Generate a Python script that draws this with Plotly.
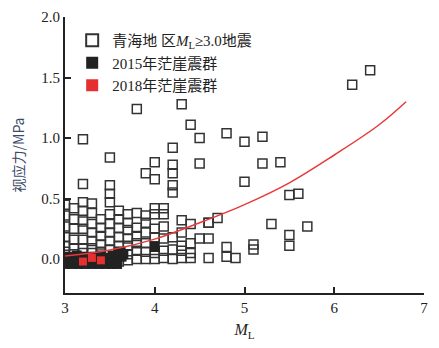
import plotly.graph_objects as go

# Open squares: Qinghai ML>=3.0 earthquakes (ML, apparent stress MPa)
qh_ml = [3.2, 3.5, 3.8, 4.3, 4.4, 4.5, 4.2, 4.5, 4.0, 4.2, 4.2, 3.9, 4.0, 4.8, 5.0, 5.2, 5.2, 5.4,
         6.2, 6.4, 5.0, 5.5, 5.6, 4.7, 4.6, 5.3, 5.7, 5.5, 5.5, 4.6, 4.5, 4.8, 4.8, 4.9, 5.1, 5.1, 4.6,
         4.2, 4.2, 3.5, 3.5, 3.5, 3.2,
         3.0, 3.0, 3.0, 3.0, 3.0, 3.0,
         3.1, 3.1, 3.1, 3.1, 3.1, 3.1,
         3.2, 3.2, 3.2, 3.2, 3.2, 3.2, 3.2,
         3.3, 3.3, 3.3, 3.3, 3.3, 3.3, 3.3,
         3.4, 3.4, 3.4, 3.4, 3.4,
         3.5, 3.5, 3.5, 3.5, 3.5,
         3.6, 3.6, 3.6, 3.6, 3.6, 3.6, 3.6,
         3.7, 3.7, 3.7, 3.7, 3.7, 3.7, 3.7,
         3.8, 3.8, 3.8, 3.8, 3.8, 3.8,
         3.9, 3.9, 3.9, 3.9, 3.9, 3.9,
         4.0, 4.0, 4.0, 4.0, 4.0, 4.0,
         4.1, 4.1, 4.1, 4.1, 4.1, 4.1,
         4.2, 4.2, 4.2,
         4.3, 4.3, 4.3, 4.3, 4.3,
         4.4, 4.4, 4.4, 4.4,
         4.6]
qh_sigma = [0.99, 0.84, 1.24, 1.28, 1.11, 1.00, 0.92, 0.79, 0.80, 0.78, 0.71, 0.71, 0.66, 1.04, 0.97, 1.01, 0.79, 0.80,
            1.44, 1.56, 0.64, 0.53, 0.54, 0.34, 0.30, 0.29, 0.27, 0.20, 0.11, 0.17, 0.17, 0.10, 0.02, 0.01, 0.12, 0.08, 0.01,
            0.61, 0.55, 0.61, 0.54, 0.47, 0.62,
            0.45, 0.36, 0.27, 0.18, 0.11, 0.06,
            0.42, 0.33, 0.25, 0.16, 0.09, 0.04,
            0.47, 0.40, 0.31, 0.25, 0.16, 0.09, 0.05,
            0.46, 0.38, 0.29, 0.22, 0.15, 0.09, 0.05,
            0.33, 0.26, 0.19, 0.12, 0.06,
            0.37, 0.29, 0.22, 0.15, 0.08,
            0.40, 0.33, 0.26, 0.18, 0.11, 0.06, -0.02,
            0.37, 0.30, 0.24, 0.17, 0.11, 0.04, -0.01,
            0.38, 0.26, 0.19, 0.13, 0.07, 0.00,
            0.36, 0.30, 0.22, 0.13, 0.06, 0.00,
            0.42, 0.37, 0.25, 0.18, 0.05, 0.00,
            0.42, 0.37, 0.27, 0.17, 0.07, 0.01,
            0.18, 0.08, 0.00,
            0.32, 0.22, 0.11, 0.07, 0.01,
            0.29, 0.13, 0.05, 0.01,
            0.30]

# 2015 Mangya swarm (black filled)
s2015_ml = [3.0, 3.03, 3.07, 3.1, 3.13, 3.17, 3.2, 3.23, 3.27, 3.3, 3.33, 3.37, 3.4, 3.43, 3.47,
            3.5, 3.53, 3.57, 3.6, 3.63, 3.0, 3.08, 3.15, 3.22, 3.3, 3.38, 3.45, 3.52, 3.58, 3.62, 3.65, 4.0]
s2015_sigma = [0.02, -0.03, 0.01, -0.02, 0.03, -0.01, 0.02, -0.03, 0.01, -0.02, 0.02, -0.01, 0.03, -0.03, 0.01,
               -0.02, 0.03, -0.01, 0.05, 0.02, -0.04, -0.04, -0.04, -0.04, -0.04, -0.04, -0.04, -0.04, -0.04, 0.06, 0.04, 0.10]

# 2018 Mangya swarm (red filled)
s2018_ml = [3.2, 3.3, 3.4]
s2018_sigma = [-0.02, 0.01, -0.01]

# Fitted curve
fit_ml = [3.0, 3.5, 4.0, 4.5, 5.0, 5.5, 6.0, 6.5, 6.8]
fit_sigma = [0.025, 0.075, 0.165, 0.30, 0.45, 0.63, 0.86, 1.11, 1.30]

serif = "Liberation Serif, Times New Roman, serif"
cjk = "Noto Sans CJK SC"

fig = go.Figure()
fig.add_trace(go.Scatter(
    x=qh_ml, y=qh_sigma, mode="markers",
    name="青海地 区<i>M</i><sub>L</sub>≥3.0地震",
    marker=dict(symbol="square-open", size=9, color="#333333", line=dict(width=1.5, color="#333333")),
))
fig.add_trace(go.Scatter(
    x=s2015_ml, y=s2015_sigma, mode="markers", name="2015年茫崖震群",
    marker=dict(symbol="square", size=10, color="#222222", line=dict(width=0)),
))
fig.add_trace(go.Scatter(
    x=s2018_ml, y=s2018_sigma, mode="markers", name="2018年茫崖震群",
    marker=dict(symbol="square", size=8, color="#e53030", line=dict(width=0)),
))
fig.add_trace(go.Scatter(
    x=fit_ml, y=fit_sigma, mode="lines", line=dict(color="#e8393a", width=1.5, shape="spline"),
    showlegend=False,
))

fig.update_layout(
    width=439, height=348,
    margin=dict(l=57, r=23, t=9, b=63),
    paper_bgcolor="white", plot_bgcolor="white",
    font=dict(family=serif, size=15, color="#222222"),
    legend=dict(
        x=0.02, y=0.975, xanchor="left", yanchor="top",
        bgcolor="rgba(0,0,0,0)",
        font=dict(family=serif + ", " + cjk, size=15, color="#222222"),
        tracegroupgap=0, itemsizing="constant",
    ),
    xaxis=dict(
        range=[3, 7], tickvals=[3, 4, 5, 6, 7], ticks="inside", ticklen=6, tickwidth=1.5,
        showline=True, linewidth=2, linecolor="#222222", tickcolor="#222222",
        showgrid=False, zeroline=False, automargin=False,
        title=dict(text="<i>M</i><sub>L</sub>", font=dict(family=serif, size=16), standoff=9),
    ),
    yaxis=dict(
        range=[-0.28, 2.0], tickvals=[0, 0.5, 1.0, 1.5, 2.0], tickformat=".1f",
        ticks="inside", ticklen=6, tickwidth=1.5,
        showline=True, linewidth=2, linecolor="#222222", tickcolor="#222222",
        showgrid=False, zeroline=False, automargin=False,
        title=dict(text="视应力/MPa", font=dict(family=cjk, size=14, color="#3a4a68"), standoff=14),
    ),
)

fig.write_html("out.html")
